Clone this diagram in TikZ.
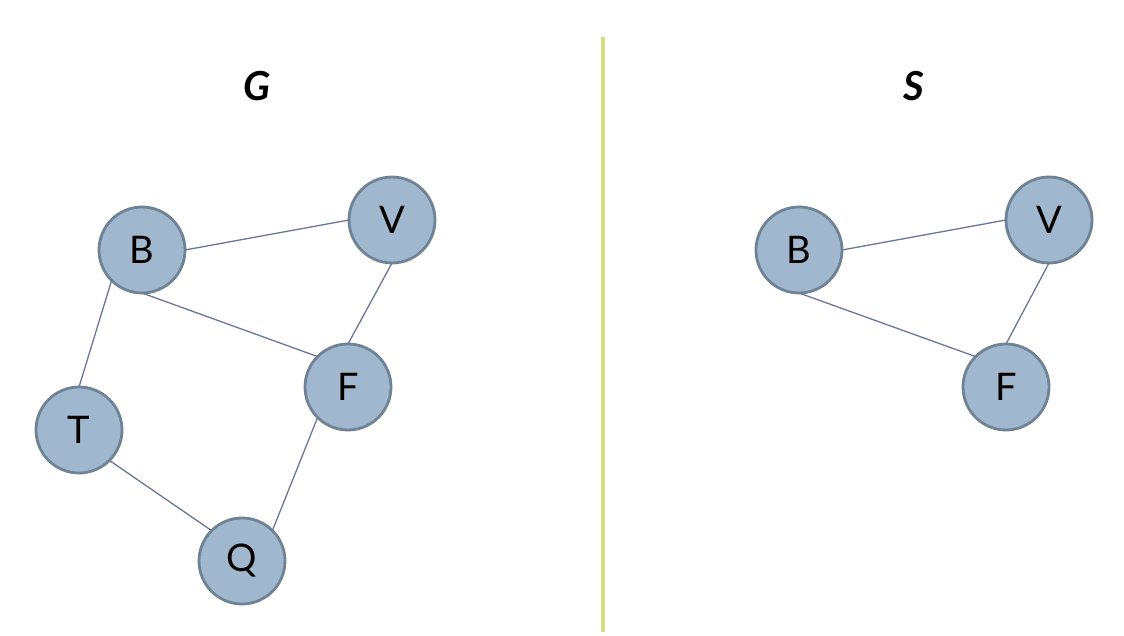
\documentclass[tikz,border=0pt]{standalone}
\usepackage{fontspec}
\setmainfont{Lato}
\begin{document}
\begin{tikzpicture}[x=1pt,y=-1pt,
  vertex/.style={circle,draw=vborder,fill=vfill,line width=2.8pt,minimum size=86pt,inner sep=0pt,outer sep=0pt,font=\fontsize{38}{42}\selectfont},
  edge/.style={draw=edgecol,line width=1.3pt},
  title/.style={font=\fontsize{40}{44}\selectfont\bfseries\itshape}]
\definecolor{vfill}{HTML}{A1B7CD}
\definecolor{vborder}{HTML}{6F8396}
\definecolor{edgecol}{HTML}{6B7698}
\definecolor{divider}{HTML}{D4DE7C}
\useasboundingbox[fill=white] (0,0) rectangle (1124,636);

% left graph
\node[title] (gl) at (257,86) {G};
\node[vertex] (b1) at (142,250) {B};
\node[vertex] (v1) at (392,220) {V};
\node[vertex] (f1) at (348,387) {F};
\node[vertex] (t1) at (79,430) {T};
\node[vertex] (q1) at (242,561) {Q};
\draw[edge] (b1.east) -- (v1.west);
\draw[edge] (b1.south) -- (f1.north west);
\draw[edge] (v1.south) -- (f1.north);
\draw[edge] (b1.south west) -- (t1.north);
\draw[edge] (t1.south east) -- (q1.north west);
\draw[edge] (q1.north east) -- (f1.south west);

% divider
\coordinate (dtop) at (603,37);
\coordinate (dbot) at (603,632);
\draw[divider,line width=3.5pt] (dtop) -- (dbot);

% right graph
\node[title] (sl) at (914,86) {S};
\node[vertex] (b2) at (799,250) {B};
\node[vertex] (v2) at (1049,220) {V};
\node[vertex] (f2) at (1006,387) {F};
\draw[edge] (b2.east) -- (v2.west);
\draw[edge] (b2.south) -- (f2.north west);
\draw[edge] (v2.south) -- (f2.north);
\end{tikzpicture}
\end{document}
